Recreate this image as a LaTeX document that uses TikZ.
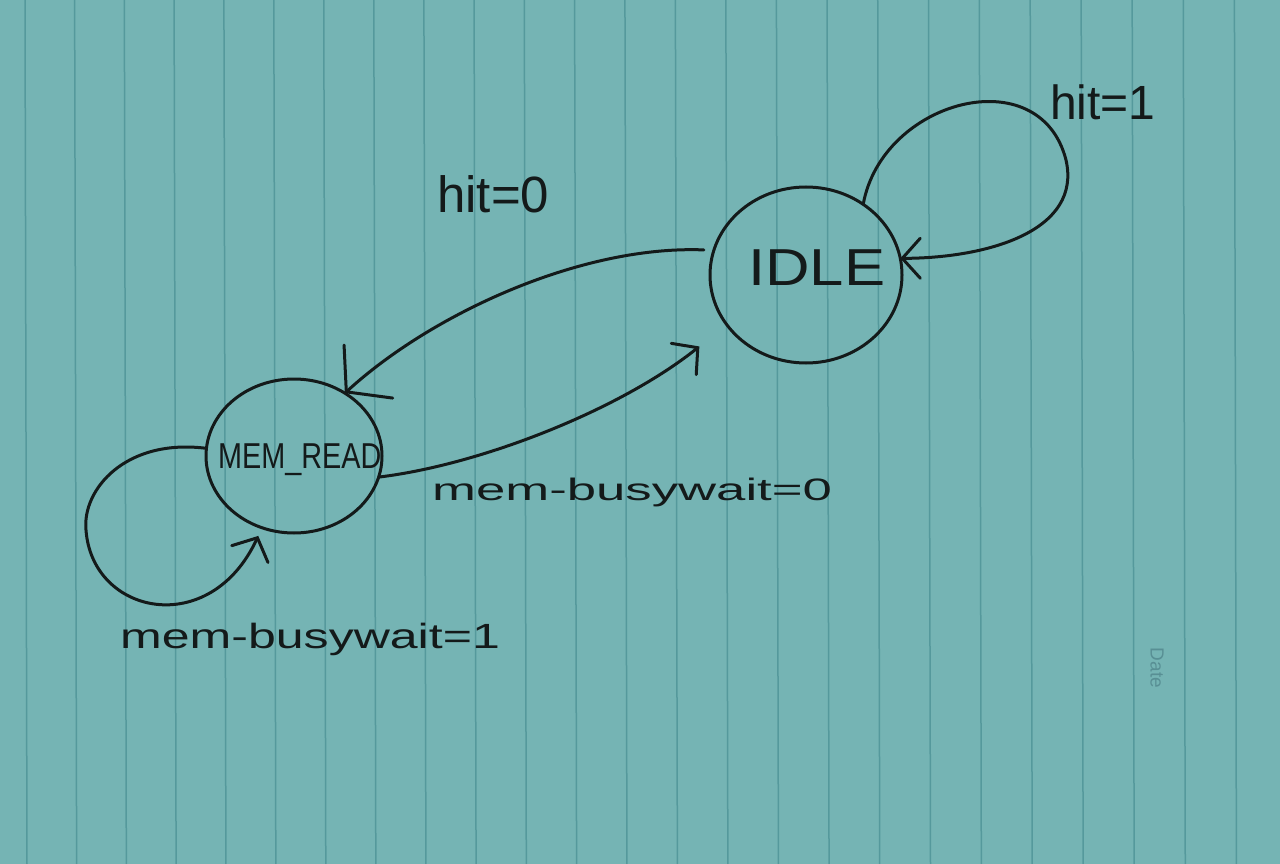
\documentclass[tikz,border=0pt]{standalone}
\usepackage{graphicx}
\usepackage{fontspec}
\setmainfont{Liberation Sans}
\usetikzlibrary{shapes.geometric,arrows.meta}
\definecolor{paper}{HTML}{75B4B4}
\definecolor{rulec}{HTML}{55999C}
\definecolor{ink}{HTML}{141A1A}
\definecolor{datec}{HTML}{588F94}
\begin{document}
\begin{tikzpicture}[x=1pt,y=-1pt,
  state/.style={draw=ink, line width=3pt, ellipse, inner sep=0pt, outer sep=0pt},
  edge/.style={draw=ink, line width=3pt, line cap=round, line join=round},
  lbl/.style={text=ink, inner sep=0pt, anchor=base west},
  bigbarb/.style={-{Straight Barb[length=30pt,width=72pt,line cap=round]}},
  smallbarb/.style={-{Straight Barb[length=18pt,width=40pt,line cap=round]}}]
\useasboundingbox (0,0) rectangle (1280,864);
\fill[paper] (0,0) rectangle (1280,864);
\foreach \n in {0,...,25} {
  \pgfmathsetmacro\xx{25+49.6*\n+0.033*\n*\n}
  \draw[rulec, line width=1.5pt] (\xx,0) -- (\xx+2,864);
}
% states
\node[state, minimum width=192pt, minimum height=176pt] (idle) at (806,275) {};
\node[state, minimum width=176pt, minimum height=154pt] (mem) at (294,456) {};
\node[lbl] (idlet) at (748,285) {\fontsize{52}{60}\selectfont\scalebox{1.185}[1]{IDLE}};
\node[lbl] (memt) at (218,468) {\fontsize{36}{42}\selectfont\scalebox{0.8}[1]{MEM\_READ}};
% transitions
\draw[edge, smallbarb] (idle.51) .. controls (882,100) and (1040,58) .. (1066,160)
   .. controls (1082,230) and (990,258) .. (idle.10);
\draw[edge, bigbarb, shorten <=10pt] (idle.165) .. controls (580,245) and (430,315) .. (mem.51);
\draw[edge, smallbarb, shorten >=35pt] (mem.-14) .. controls (480,465) and (620,410) .. (idle.212);
\draw[edge, smallbarb, shorten >=9pt] (mem.175) .. controls (125,438) and (82,490) .. (86,530)
   .. controls (92,615) and (210,640) .. (mem.246);
% labels
\node[lbl] (h0) at (437,212) {\fontsize{51}{60}\selectfont hit=0};
\node[lbl] (h1) at (1050,120) {\fontsize{48}{56}\selectfont hit=1};
\node[lbl] (mb0) at (432,500) {\fontsize{31}{36}\selectfont\scalebox{1.7}[1]{mem-busywait=0}};
\node[lbl] (mb1) at (120,648) {\fontsize{35}{40}\selectfont\scalebox{1.43}[1]{mem-busywait=1}};
\node[text=datec, rotate=-90, inner sep=0pt, font=\fontsize{19}{22}\selectfont] (date) at (1157,668) {Date};
\end{tikzpicture}
\end{document}
